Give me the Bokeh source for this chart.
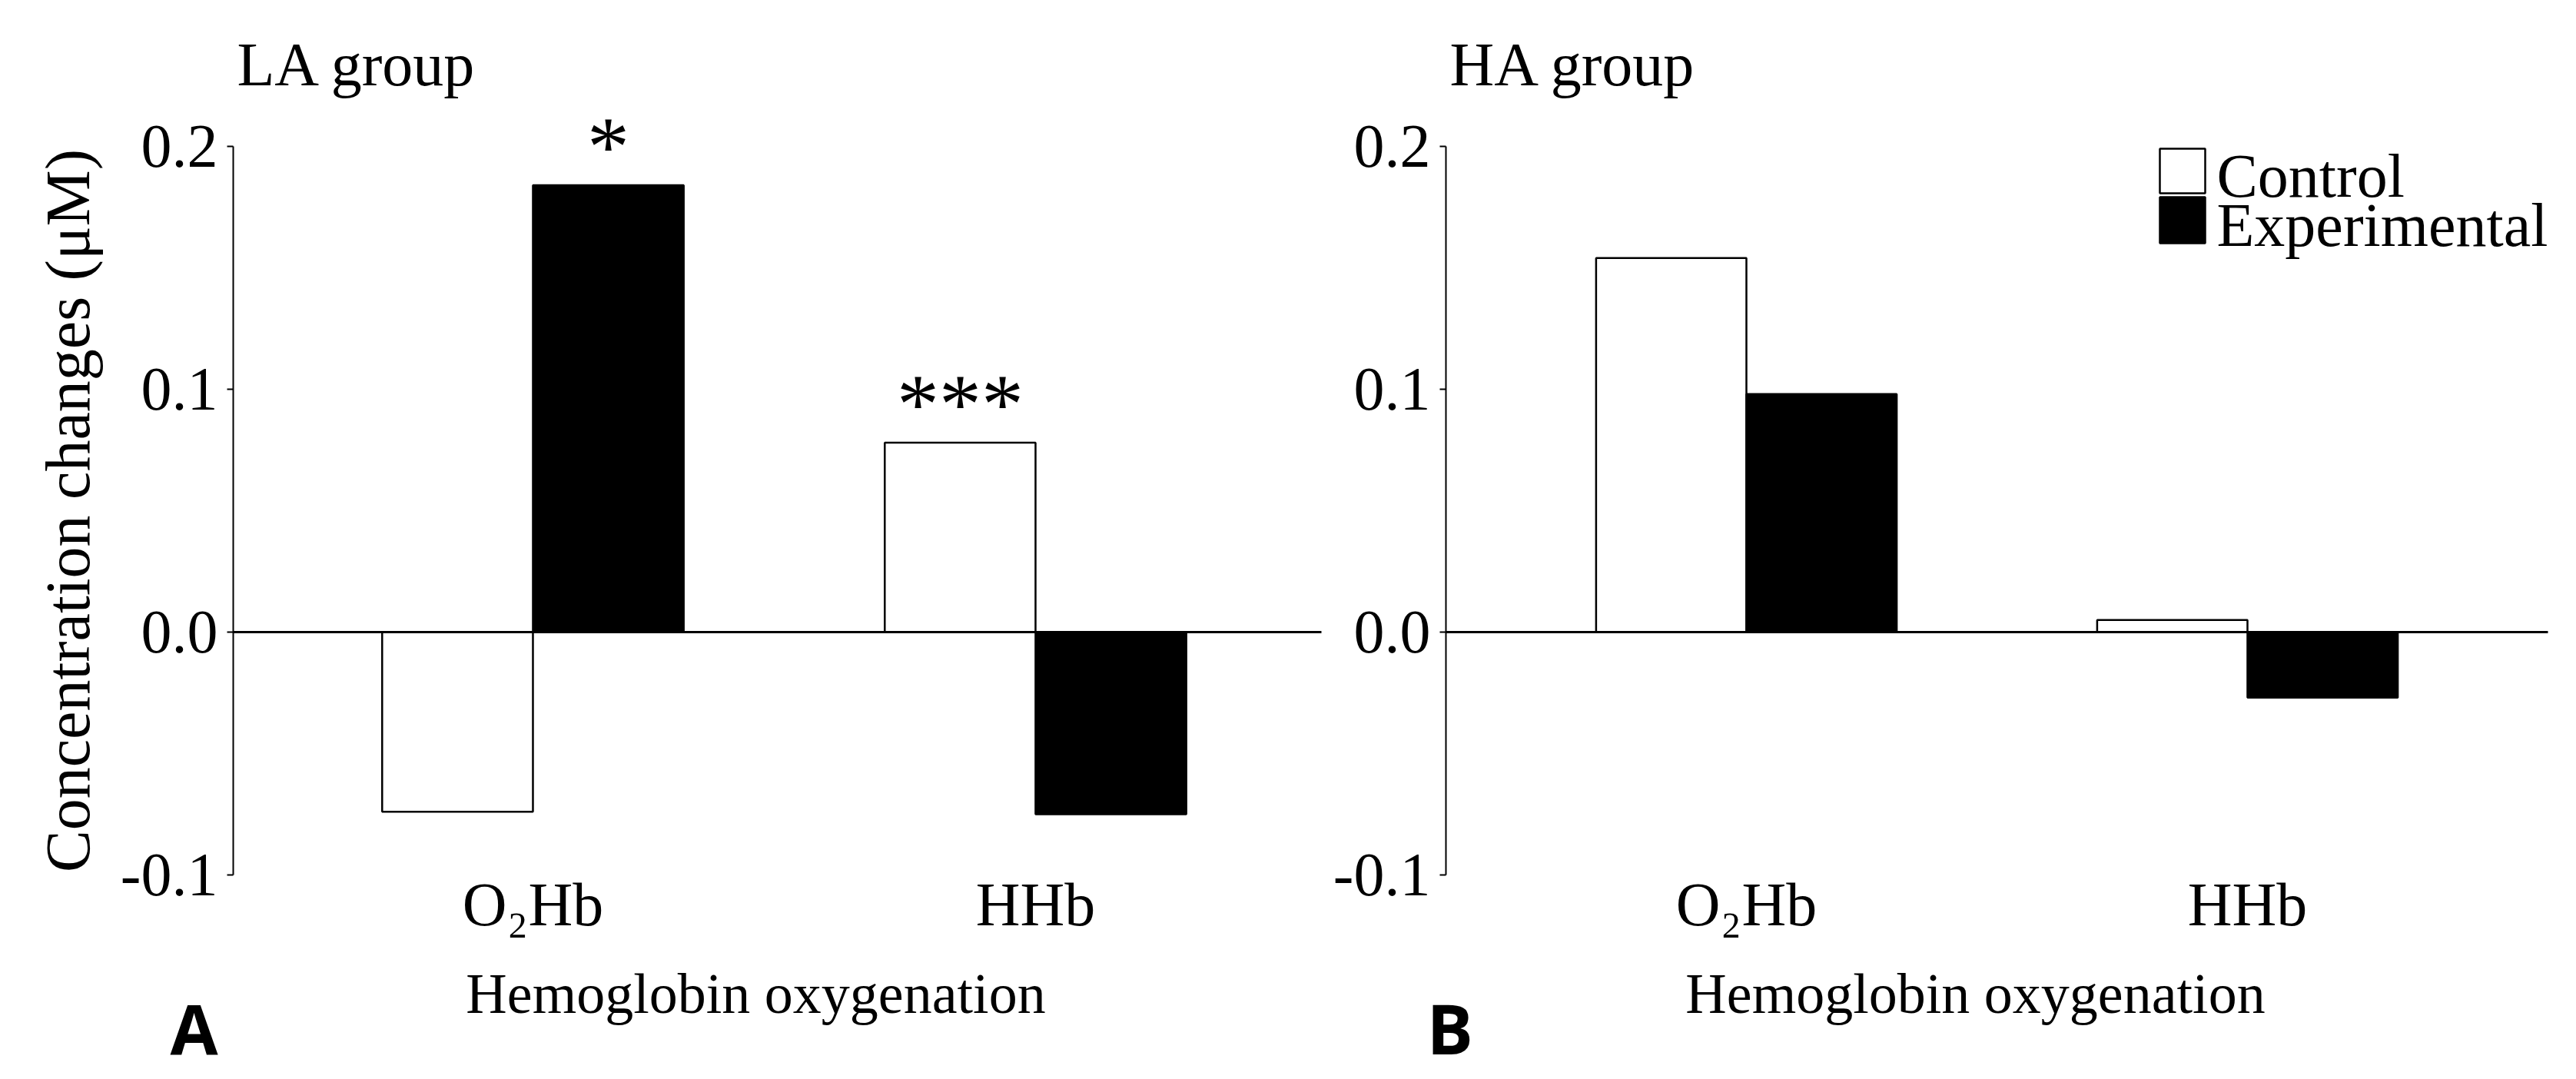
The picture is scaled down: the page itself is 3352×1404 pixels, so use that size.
import math
from bokeh.plotting import figure
from bokeh.models import (Range1d, FixedTicker, PrintfTickFormatter, Label, LinearAxis,
                          BoxAnnotation, ColumnDataSource)
from bokeh.layouts import row
from bokeh.transform import dodge
from bokeh.embed import file_html
from bokeh.resources import INLINE
from bokeh.core.properties import value

# ---------------- data ----------------
categories = ["O₂Hb", "HHb"]
series_names = ["Control", "Experimental"]
la_control = [-0.074, 0.078]
la_experimental = [0.184, -0.075]
ha_control = [0.154, 0.005]
ha_experimental = [0.098, -0.027]
la_control_sig = ["", "***"]
la_experimental_sig = ["*", ""]
ha_control_sig = ["", ""]
ha_experimental_sig = ["", ""]
y_ticks = [-0.1, 0.0, 0.1, 0.2]
panel_titles = ["LA group", "HA group"]
panel_letters = ["A", "B"]
x_label = "Hemoglobin oxygenation"
y_label = "Concentration changes (μM)"

# ---------------- layout / style ----------------
SERIF = "Liberation Serif"
FS = "80px"
H = 1400
BAR_W = 0.3
Y_MIN, Y_MAX = -0.1, 0.2
Y_TOP_PX = 190          # canvas y of Y_MAX
Y_PX_PER_UNIT = 3160.0
BASE_FIX = 30           # label baseline correction


def make_panel(width, axis_px, x0, x1, unit_px, ctrl, exp, ctrl_sig, exp_sig,
               title, letter, letter_x, with_ylabel, with_legend):
    x_range = Range1d(x0 - axis_px / unit_px, x0 + (width - axis_px) / unit_px)
    y_range = Range1d(Y_MAX - (H - Y_TOP_PX) / Y_PX_PER_UNIT, Y_MAX + Y_TOP_PX / Y_PX_PER_UNIT)
    p = figure(width=width, height=H, x_range=x_range, y_range=y_range,
               output_backend="svg", toolbar_location=None,
               min_border_left=0, min_border_right=0, min_border_top=0, min_border_bottom=0)
    p.title.visible = False
    p.outline_line_color = None
    p.grid.visible = False

    xs = [i + 1 for i in range(len(categories))]
    src = ColumnDataSource(dict(
        x=xs, ctrl=ctrl, exp=exp,
        ctrl_top=[max(v, 0) for v in ctrl], exp_top=[max(v, 0) for v in exp],
        ctrl_sig=ctrl_sig, exp_sig=exp_sig))

    p.vbar(x=dodge("x", -BAR_W / 2), top="ctrl", bottom=0, width=BAR_W,
           fill_color="white", line_color="black", line_width=2.5, source=src)
    p.vbar(x=dodge("x", BAR_W / 2), top="exp", bottom=0, width=BAR_W,
           fill_color="black", line_color="black", line_width=2.5, source=src)

    for col, dx in (("ctrl", -BAR_W / 2), ("exp", BAR_W / 2)):
        p.text(x=dodge("x", dx), y=col + "_top", text=col + "_sig", source=src,
               text_align="center", text_baseline="alphabetic", y_offset=-50,
               text_font=value(SERIF), text_font_size=value("110px"), text_color="black")

    # y axis
    ya = p.yaxis[0]
    ya.fixed_location = x0
    ya.bounds = (Y_MIN, Y_MAX)
    ya.ticker = FixedTicker(ticks=y_ticks)
    ya.formatter = PrintfTickFormatter(format="%.1f")
    ya.major_tick_out = 8
    ya.major_tick_in = 0
    ya.minor_tick_line_color = None
    ya.axis_line_width = 2
    ya.major_tick_line_width = 2
    ya.major_label_text_font = SERIF
    ya.major_label_text_font_size = FS
    ya.major_label_text_color = "black"
    ya.major_label_standoff = 12
    if with_ylabel:
        ya.axis_label = y_label
        ya.axis_label_text_font = SERIF
        ya.axis_label_text_font_size = "82px"
        ya.axis_label_text_font_style = "normal"
        ya.axis_label_text_color = "black"
        ya.axis_label_standoff = 20

    # x axis (category labels + axis title) at the bottom of the value range
    xa = p.xaxis[0]
    xa.fixed_location = Y_MIN
    xa.bounds = (x0, x1 - 0.086)
    xa.ticker = FixedTicker(ticks=xs)
    xa.major_label_overrides = {x: c for x, c in zip(xs, categories)}
    xa.axis_line_color = None
    xa.major_tick_line_color = None
    xa.major_tick_line_alpha = 0
    xa.major_tick_out = 0
    xa.major_tick_in = 0
    xa.minor_tick_line_color = None
    xa.major_label_text_font = SERIF
    xa.major_label_text_font_size = FS
    xa.major_label_text_color = "black"
    xa.major_label_standoff = -6
    xa.axis_label = x_label
    xa.axis_label_text_font = SERIF
    xa.axis_label_text_font_size = "74px"
    xa.axis_label_text_font_style = "normal"
    xa.axis_label_text_color = "black"
    xa.axis_label_standoff = 28

    # zero line
    zero = LinearAxis(fixed_location=0, bounds=(x0, x1), ticker=FixedTicker(ticks=[]),
                      axis_line_width=3, axis_line_color="black",
                      major_tick_line_color=None, minor_tick_line_color=None,
                      major_label_text_alpha=0)
    p.add_layout(zero, "below")

    # titles / letters
    p.add_layout(Label(x=axis_px + 5, y=H - 98 + BASE_FIX - 15, x_units="screen", y_units="screen",
                       text=title, text_font=SERIF, text_font_size=FS, text_align="left",
                       text_baseline="alphabetic", text_color="black"))
    p.add_layout(Label(x=letter_x, y=H - 1370 + BASE_FIX + 4, x_units="screen", y_units="screen",
                       text=letter, text_font="Open Sans", text_font_style="bold",
                       text_font_size="90px", text_align="left", text_baseline="alphabetic",
                       text_color="black"))
    if with_legend:
        bx0, bx1 = 1082, 1141
        p.add_layout(BoxAnnotation(left=bx0, right=bx1, top=H - 193, bottom=H - 251,
                                   left_units="screen", right_units="screen",
                                   top_units="screen", bottom_units="screen",
                                   fill_color="white", fill_alpha=1, line_color="black",
                                   line_width=2.5, line_alpha=1))
        p.add_layout(BoxAnnotation(left=bx0, right=bx1, top=H - 256, bottom=H - 316,
                                   left_units="screen", right_units="screen",
                                   top_units="screen", bottom_units="screen",
                                   fill_color="black", fill_alpha=1, line_color="black",
                                   line_width=2.5, line_alpha=1))
        for name, yb in zip(series_names, [250, 314]):
            p.add_layout(Label(x=1156, y=H - yb + BASE_FIX - 8, x_units="screen", y_units="screen",
                               text=name, text_font=SERIF, text_font_size=FS,
                               text_align="left", text_baseline="alphabetic",
                               text_color="black"))
    return p


pa = make_panel(1728, 303, 0.4037, 2.5688, 654.0, la_control, la_experimental,
                la_control_sig, la_experimental_sig, panel_titles[0], panel_letters[0], 221,
                True, False)
pb = make_panel(1622, 153, 0.4003, 2.5997, 652.0, ha_control, ha_experimental,
                ha_control_sig, ha_experimental_sig, panel_titles[1], panel_letters[1], 128,
                False, True)

layout = row(pa, pb)
open("out.html", "w").write(file_html(layout, INLINE))
